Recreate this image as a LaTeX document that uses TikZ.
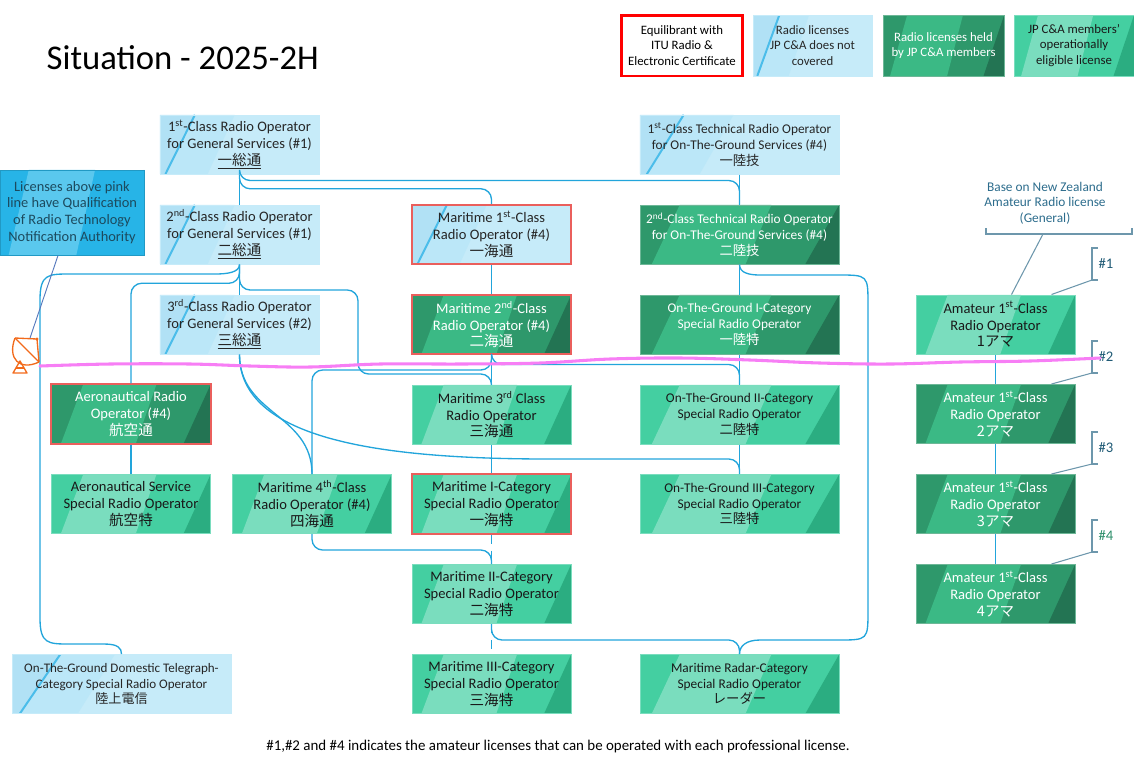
\documentclass[tikz,border=0pt]{standalone}
\usepackage{fontspec}
\setmainfont{Carlito}
\newfontfamily\jp{Noto Sans CJK JP}
\usetikzlibrary{calc}

% colours
\definecolor{linkblue}{HTML}{22A5DB}
\definecolor{lbBase}{HTML}{C6EBF9}
\definecolor{lbMid}{HTML}{BBE7F8}
\definecolor{lbDark}{HTML}{B1E1F5}
\definecolor{lbLine}{HTML}{4BBDEA}
\definecolor{heldBase}{HTML}{2E986B}
\definecolor{heldBand}{HTML}{3BB985}
\definecolor{heldDark}{HTML}{237453}
\definecolor{eligBase}{HTML}{44CFA1}
\definecolor{eligBand}{HTML}{7ADDBE}
\definecolor{eligDark}{HTML}{2BAD81}
\definecolor{noteBase}{HTML}{27B4E7}
\definecolor{noteBand}{HTML}{5AC8EE}
\definecolor{noteText}{HTML}{1C4A5E}
\definecolor{frameRed}{HTML}{EA5F5C}
\definecolor{pinkLine}{HTML}{F77EF5}
\definecolor{bracketGrey}{HTML}{6D97AC}
\definecolor{nzText}{HTML}{2C6C8C}
\definecolor{hashBlue}{HTML}{1F5A75}
\definecolor{hashGreen}{HTML}{2E8F6B}
\definecolor{antOrange}{HTML}{F26A1B}

\newcommand{\licfont}{\fontsize{10.9}{12.6}\selectfont}
\newcommand{\techfont}{\fontsize{10}{11.8}\selectfont}
\newcommand{\keyfont}{\fontsize{9.6}{11.4}\selectfont}

\tikzset{
  lic/.style={rectangle, inner sep=0pt, align=center, font=\licfont,
    minimum height=44.5pt, line width=0.5pt},
  narrow/.style={minimum width=119.5pt},
  wide/.style={minimum width=149.5pt, font=\techfont},
  bands/.style 2 args={path picture={
      \path (path picture bounding box.south west) coordinate (bb1)
            (path picture bounding box.north east) coordinate (bb2);
      \fill[#1] ($(bb1)!.06!(bb1-|bb2)$) -- ($(bb1)!.53!(bb1-|bb2)$)
        -- ($(bb1|-bb2)!.66!(bb2)$) -- ($(bb1|-bb2)!.20!(bb2)$) -- cycle;
      \fill[#2] ($(bb1)!.83!(bb1-|bb2)$) -- (bb1-|bb2) -- (bb2) -- cycle;
  }},
  bluebands/.style={path picture={
      \path (path picture bounding box.south west) coordinate (bb1)
            (path picture bounding box.north east) coordinate (bb2);
      \fill[lbMid] ($(bb1)!.035!(bb1-|bb2)$) -- ($(bb1)!.30!(bb1-|bb2)$)
        -- ($(bb1|-bb2)!.47!(bb2)$) -- ($(bb1|-bb2)!.22!(bb2)$) -- cycle;
      \fill[lbDark] (bb1) -- ($(bb1)!.035!(bb1-|bb2)$)
        -- ($(bb1|-bb2)!.22!(bb2)$) -- (bb1|-bb2) -- cycle;
      \draw[lbLine, line width=1.5pt] ($(bb1)!.035!(bb1-|bb2)$) -- ($(bb1|-bb2)!.22!(bb2)$);
  }},
  lightlic/.style={lic, fill=lbBase, draw=lbBase, text=black!85, bluebands},
  heldlic/.style={lic, fill=heldBase, draw=heldBase!70!white, text=white,
    bands={heldBand}{heldDark}},
  eliglic/.style={lic, fill=eligBase, draw=eligBand, text=black!90,
    bands={eligBand}{eligDark}},
  itu/.style={draw=frameRed, line width=1.6pt},
  link/.style={draw=linkblue, line width=1pt, rounded corners=8pt},
  sublink/.style={link, dash pattern=on 7pt off 5pt},
  brace/.style={draw=bracketGrey, line width=0.8pt},
  pinkline/.style={draw=pinkLine, line width=2.3pt, line cap=round},
  antenna/.style={draw=antOrange, fill=antOrange, line width=1pt, line join=round},
}

\begin{document}
\begin{tikzpicture}[x=0.75pt, y=-0.75pt]
	\useasboundingbox (0,0) rectangle (1134,769);
	
	%------------------------------
	% Title and legend
	%------------------------------
	\node[anchor=west, font=\fontsize{26}{30}\selectfont] (title) at (42,58) {Situation - 2025-2H};
	
	\node[lic, minimum width=91pt, minimum height=45.5pt, fill=white, draw=red,
	line width=2pt, font=\keyfont] (keyitu) at (682,45.5)
	{Equilibrant with\\ITU Radio \&\\Electronic Certificate};
	\node[lightlic, minimum width=89pt, minimum height=45.5pt, font=\keyfont] (keyblue) at (812.5,45.5)
	{Radio licenses\\JP C\&A does not\\covered};
	\node[heldlic, minimum width=91pt, minimum height=45.5pt, font=\keyfont] (keyheld) at (943.5,45.5)
	{Radio licenses held\\by JP C\&A members};
	\node[eliglic, minimum width=90pt, minimum height=45.5pt, font=\keyfont] (keyelig) at (1074,45.5)
	{JP C\&A members’\\operationally\\eligible license};
	
	%------------------------------
	% General services / aeronautical
	%------------------------------
	\node[lightlic, narrow] (gen1) at (239.5,144.5)
	{1\textsuperscript{st}-Class Radio Operator\\for General Services (\#1)\\{\jp\underline{一総通}}};
	\node[lightlic, narrow] (gen2) at (239.5,234.5)
	{2\textsuperscript{nd}-Class Radio Operator\\for General Services (\#1)\\{\jp\underline{二総通}}};
	\node[lightlic, narrow] (gen3) at (239.5,324.5)
	{3\textsuperscript{rd}-Class Radio Operator\\for General Services (\#2)\\{\jp\underline{三総通}}};
	
	\node[heldlic, narrow, itu] (aero) at (131,414)
	{Aeronautical Radio\\Operator (\#4)\\{\jp 航空通}};
	\node[eliglic, narrow] (aerosp) at (131,504)
	{Aeronautical Service\\Special Radio Operator\\{\jp 航空特}};
	\node[eliglic, narrow] (mar4) at (312,504)
	{Maritime 4\textsuperscript{th}-Class\\Radio Operator (\#4)\\{\jp 四海通}};
	\node[lightlic, minimum width=164pt, font=\fontsize{9.8}{11.8}\selectfont] (dom) at (121.5,684)
	{On-The-Ground Domestic Telegraph-\\Category Special Radio Operator\\{\jp 陸上電信}};
	
	% Note on the pink line
	\node[rectangle, minimum width=108pt, minimum height=64pt, inner sep=0pt, align=center,
	fill=noteBase, draw=noteBase!85!black, line width=0.5pt, text=noteText,
	font=\fontsize{10.8}{12.6}\selectfont, bands={noteBand}{noteBase}] (note) at (72,212.5)
	{Licenses above pink\\line have Qualification\\of Radio Technology\\Notification Authority};
	
	%------------------------------
	% Maritime column
	%------------------------------
	\node[lightlic, narrow, itu] (mar1) at (491.5,234.5)
	{Maritime 1\textsuperscript{st}-Class\\Radio Operator (\#4)\\{\jp 一海通}};
	\node[heldlic, narrow, itu] (mar2) at (491.5,324.5)
	{Maritime 2\textsuperscript{nd}-Class\\Radio Operator (\#4)\\{\jp 二海通}};
	\node[eliglic, narrow] (mar3) at (491.5,414.5)
	{Maritime 3\textsuperscript{rd} Class\\Radio Operator\\{\jp 三海通}};
	\node[eliglic, narrow, itu] (marI) at (491.5,504)
	{Maritime I-Category\\Special Radio Operator\\{\jp 一海特}};
	\node[eliglic, narrow] (marII) at (491.5,594)
	{Maritime II-Category\\Special Radio Operator\\{\jp 二海特}};
	\node[eliglic, narrow] (marIII) at (491.5,684)
	{Maritime III-Category\\Special Radio Operator\\{\jp 三海特}};
	
	%------------------------------
	% On-the-ground column
	%------------------------------
	\node[lightlic, wide] (tech1) at (739.5,144.5)
	{1\textsuperscript{st}-Class Technical Radio Operator\\for On-The-Ground Services (\#4)\\{\jp 一陸技}};
	\node[heldlic, wide] (tech2) at (739.5,234.5)
	{2\textsuperscript{nd}-Class Technical Radio Operator\\for On-The-Ground Services (\#4)\\{\jp 二陸技}};
	\node[heldlic, wide] (ground1) at (739.5,324.5)
	{On-The-Ground I-Category\\Special Radio Operator\\{\jp 一陸特}};
	\node[eliglic, wide] (ground2) at (739.5,414.5)
	{On-The-Ground II-Category\\Special Radio Operator\\{\jp 二陸特}};
	\node[eliglic, wide] (ground3) at (739.5,504)
	{On-The-Ground III-Category\\Special Radio Operator\\{\jp 三陸特}};
	\node[eliglic, wide] (radar) at (739.5,684)
	{Maritime Radar-Category\\Special Radio Operator\\{\jp レーダー}};
	
	%------------------------------
	% Amateur column
	%------------------------------
	\node[eliglic, narrow] (ama1) at (995.5,324.5) {Amateur 1\textsuperscript{st}-Class\\Radio Operator\\{\jp 1アマ}};
	\node[heldlic, narrow] (ama2) at (995.5,414) {Amateur 1\textsuperscript{st}-Class\\Radio Operator\\{\jp 2アマ}};
	\node[heldlic, narrow] (ama3) at (995.5,504) {Amateur 1\textsuperscript{st}-Class\\Radio Operator\\{\jp 3アマ}};
	\node[heldlic, narrow] (ama4) at (995.5,594) {Amateur 1\textsuperscript{st}-Class\\Radio Operator\\{\jp 4アマ}};
	
	% New Zealand bracket
	\node[align=center, text=nzText, font=\fontsize{10}{11.6}\selectfont] (nzbase) at (1045,203)
	{Base on New Zealand\\Amateur Radio license\\(General)};
	\coordinate (nztick) at (1043,234);
	\draw[brace] (986,228) -- (986,234) -- (1132,234) -- (1132,228);
	\draw[brace] (nztick) -- ($(ama1.north)+(16,0)$);
	
	% #1 ... #4 brackets
	\foreach \n/\k/\top/\col in {ama1/1/248/hashBlue, ama2/2/341/hashBlue,
		ama3/3/432/hashBlue, ama4/4/520/hashGreen} {
		\draw[brace] (1098,\top) -- (1092,\top) -- (1092,\top+32) -- (1098,\top+32);
		\draw[brace] (1092,\top+32) -- ($(\n.north east)+(-24,0)$);
		\node[text=\col, font=\fontsize{11}{13}\selectfont] (hash\k) at (1106,\top+16) {\#\k};
	}
	
	%------------------------------
	% Connectors
	%------------------------------
	\foreach \a/\b in {gen1/gen2, gen2/gen3, aero/aerosp, mar1/mar2, mar2/mar3,
		mar3/marI, tech1/tech2, tech2/ground1, ground1/ground2, ground2/ground3,
		ama1/ama2, ama2/ama3, ama3/ama4}
	\draw[link] (\a.south) -- (\b.north);
	
	% dashed special categories
	\draw[sublink] (marI.south) -- (marII.north);
	\draw[sublink] (marII.south) -- (marIII.north);
	
	% from 1st-class general
	\draw[link] (gen1.south) |- ($(mar1.north)+(0,-15)$) -- (mar1.north);
	\draw[link] (gen1.south) |- ($(tech2.north)+(0,-24)$) -- (tech2.north);
	
	% from 2nd-class general (long bend down to the telegraph licence)
	\coordinate (domtop) at (40,274);
	\coordinate (dombot) at (40,644);
	\draw[link, sharp corners] (gen2.south) .. controls +(0,8) and +(12,0) .. (215,274)
	-- (70,274) .. controls (48,274) and (domtop) .. (40,300) -- (40,618)
	.. controls (dombot) and (48,644) .. (70,644) -- (104,644)
	.. controls +(14,0) and +(0,-6) .. (dom.north);
	\draw[link] (gen2.south) |- ($(aero.north)+(0,-100)$) -- (aero.north);
	\coordinate (g2drop) at (358,290);
	\coordinate (g2foot) at (358,374);
	\draw[link] (gen2.south) |- (g2drop) -- (g2foot) -| (mar3.north);
	
	% from 3rd-class general
	\coordinate (g3mid) at (560,459);
	\draw[link] (gen3.south) .. controls +(0,60) and +(0,-60) .. (mar4.north);
	\draw[link] (gen3.south) .. controls +(0,85) and +(-180,0) .. (g3mid) -| (ground3.north);
	
	% from maritime 2nd-class
	\draw[link] (mar2.south) |- ($(mar4.north)+(0,-104)$) -- (mar4.north);
	\draw[link] (mar2.south) |- ($(ground2.north)+(0,-20)$) -- (ground2.north);
	
	% lower part
	\draw[link] (mar4.south) |- ($(marII.north)+(0,-14)$) -- (marII.north);
	\draw[link] (marII.south) |- ($(radar.north)+(0,-14)$) -- (radar.north);
	\coordinate (t2right) at (868,275);
	\coordinate (radright) at (868,640);
	\draw[link, sharp corners] (tech2.south) .. controls +(0,8) and +(-12,0) .. (760,275)
	-- (838,275) .. controls (t2right) and (t2right) .. (868,305) -- (868,610)
	.. controls (radright) and (radright) .. (838,640) -- (760,640)
	.. controls +(-14,0) and +(0,-8) .. (radar.north);
	
	%------------------------------
	% Pink line and antenna
	%------------------------------
	\draw[pinkline] plot[smooth, tension=0.6] coordinates {(40,366) (110,364) (190,364)
		(250,366) (310,367) (380,364) (460,364) (540,363) (610,359) (680,358) (750,360)
		(820,363) (890,364) (960,362) (1030,361) (1100,358)};
	
	\coordinate (antmast) at (30,338);
	\draw[draw=bracketGrey!80!blue, line width=0.7pt] ($(note.south)+(-14,0)$) -- (antmast);
	\begin{scope}[antenna]
		\draw (15,338) -- (39,362);
		\draw (15,338) .. controls (7,359) and (20,371) .. (39,362);
		\draw (15,338) -- (37,339) -- (39,362);
		\fill (37,339) circle (1.3pt);
		\draw (20,361) -- (13,373) -- (27,373) -- cycle;
		\draw (16,368) -- (24,368);
	\end{scope}
	
	% footnote
	\node[font=\fontsize{11.2}{13}\selectfont] (footnote) at (558,747)
	{\#1,\#2 and \#4 indicates the amateur licenses that can be operated with each professional license.};
	
\end{tikzpicture}
\end{document}
